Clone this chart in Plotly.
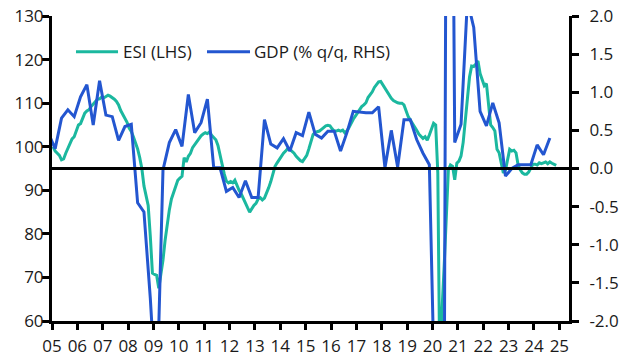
import plotly.graph_objects as go

# ---------------- data ----------------
esi_start_year = 2005  # monthly, Jan 2005 .. Nov 2024
esi_values = [
    # 2005
    100.0, 99.0, 98.5, 98.0, 97.0, 97.2, 98.5, 99.6, 100.5, 101.8, 102.3, 103.5,
    # 2006
    105.0, 105.3, 106.5, 107.7, 108.2, 108.5, 109.2, 109.7, 110.3, 110.9, 111.0, 111.4,
    # 2007
    111.2, 111.6, 111.8, 111.6, 111.3, 110.9, 110.4, 109.6, 108.3, 107.4, 106.6, 105.6,
    # 2008
    104.3, 103.5, 102.3, 101.0, 99.5, 97.5, 95.0, 91.0, 89.0, 86.5, 79.5, 71.0,
    # 2009
    70.7, 70.5, 67.5, 70.5, 74.0, 78.5, 82.5, 85.5, 88.0, 89.5, 90.5, 92.3,
    # 2010
    92.8, 93.2, 97.5, 96.5, 97.8, 98.5, 99.8, 100.5, 101.3, 102.0, 102.5, 102.9,
    # 2011
    103.2, 103.0, 103.4, 102.6, 102.0, 101.6, 100.3, 97.9, 95.6, 93.7, 92.1, 91.7,
    # 2012
    92.0, 91.7, 92.3, 91.0, 90.0, 89.2, 88.0, 87.2, 86.0, 85.0, 85.8, 86.5,
    # 2013
    87.0, 88.0, 88.3, 87.8, 88.2, 89.3, 90.6, 92.0, 94.0, 95.5, 96.3, 97.1,
    # 2014
    97.9, 98.5, 99.0, 99.6, 99.4, 99.0, 98.5, 97.8, 97.3, 96.8, 96.6, 97.2,
    # 2015
    98.0, 99.5, 101.5, 102.8, 103.3, 103.4, 103.6, 104.0, 104.4, 104.8, 104.9, 104.8,
    # 2016
    104.1, 103.6, 103.6, 103.8, 103.6, 103.8, 103.2, 103.6, 104.4, 105.5, 106.3, 107.0,
    # 2017
    107.7, 108.4, 109.2, 109.6, 110.1, 111.3, 111.9, 112.6, 113.6, 114.2, 114.9, 115.0,
    # 2018
    114.2, 113.6, 112.6, 111.9, 111.1, 110.6, 110.3, 110.1, 110.0, 110.0, 109.6, 108.0,
    # 2019
    106.9, 106.1, 105.4, 104.6, 103.8, 102.9, 102.3, 101.9, 102.3, 101.5, 102.7, 104.2,
    # 2020
    105.4, 105.0, 94.0, 45.0, 62.5, 72.5, 83.6, 94.7, 95.8, 95.5, 92.4, 96.2,
    # 2021
    96.7, 97.9, 101.0, 105.5, 110.0, 116.0, 118.5, 118.4, 119.0, 119.7, 116.8, 115.5,
    # 2022
    114.0, 114.5, 110.0, 105.0, 104.4, 103.6, 99.4, 98.6, 96.3, 94.0, 94.6, 97.0,
    # 2023
    99.4, 99.0, 99.2, 98.6, 95.8, 94.7, 94.0, 93.7, 93.7, 94.2, 95.0, 96.0,
    # 2024
    96.0, 95.8, 96.3, 96.1, 96.3, 96.5, 96.1, 96.5, 96.2, 96.0, 95.7,
]

gdp_start = 2004.75  # quarterly, Q4 2004 .. Q3 2024 (% q/q)
gdp_values = [
    0.45,
    0.26, 0.66, 0.77, 0.68,     # 2005
    0.94, 1.10, 0.57, 1.15,     # 2006
    0.70, 0.68, 0.37, 0.55,     # 2007
    0.58, -0.45, -0.57, -1.70,  # 2008
    -3.10, -0.02, 0.34, 0.51,   # 2009
    0.29, 0.97, 0.47, 0.60,     # 2010
    0.91, 0.01, 0.01, -0.30,    # 2011
    -0.25, -0.38, -0.16, -0.38, # 2012
    -0.38, 0.64, 0.32, 0.27,    # 2013
    0.39, 0.23, 0.47, 0.43,     # 2014
    0.74, 0.45, 0.40, 0.49,     # 2015
    0.49, 0.23, 0.47, 0.75,     # 2016
    0.74, 0.73, 0.73, 0.81,     # 2017
    0.01, 0.50, 0.02, 0.64,     # 2018
    0.64, 0.38, 0.20, 0.05,     # 2019
    -3.60, -11.30, 12.40, 0.34, # 2020
    0.58, 2.20, 1.85, 0.75,     # 2021
    0.56, 0.86, 0.60, -0.10,    # 2022
    0.00, 0.05, 0.05, 0.05,     # 2023
    0.31, 0.18, 0.40,           # 2024
]

x_tick_years = list(range(2005, 2026))
x_tick_labels = ["%02d" % (y % 100) for y in x_tick_years]
y_left_ticks = [60, 70, 80, 90, 100, 110, 120, 130]
y_right_ticks = [-2.0, -1.5, -1.0, -0.5, 0.0, 0.5, 1.0, 1.5, 2.0]
y_right_labels = ["-2.0", "-1.5", "-1.0", "-0.5", "0.0", "0.5", "1.0", "1.5", "2.0"]

series_names = ["ESI (LHS)", "GDP (% q/q, RHS)"]

# ---------------- styles ----------------
TEAL = "#1BB89F"
BLUE = "#2356D0"
TXT = "#1a1a1a"
FONT = "Open Sans"

esi_x = [esi_start_year + (i + 0.5) / 12 for i in range(len(esi_values))]
gdp_x = [gdp_start + (i + 0.5) / 4 for i in range(len(gdp_values))]

fig = go.Figure()
fig.add_trace(go.Scatter(x=esi_x, y=esi_values, mode="lines", name=series_names[0],
                         line=dict(color=TEAL, width=3), yaxis="y", showlegend=False))
fig.add_trace(go.Scatter(x=gdp_x, y=gdp_values, mode="lines", name=series_names[1],
                         line=dict(color=BLUE, width=3), yaxis="y2", showlegend=False))

# zero line of the right axis
fig.add_shape(type="line", xref="paper", x0=0, x1=1, yref="y2", y0=0, y1=0,
              line=dict(color="black", width=3), layer="above")

# manual legend
leg_y = 0.883
for x0, x1, tx, col, name in [(0.0464, 0.1277, 0.1335, TEAL, series_names[0]),
                              (0.2998, 0.3830, 0.3870, BLUE, series_names[1])]:
    fig.add_shape(type="line", xref="paper", yref="paper", x0=x0, x1=x1, y0=leg_y, y1=leg_y,
                  line=dict(color=col, width=3))
    fig.add_annotation(xref="paper", yref="paper", x=tx, y=leg_y, text=name, showarrow=False,
                       xanchor="left", yanchor="middle", font=dict(size=17, color=TXT, family=FONT))

axis_common = dict(showgrid=False, zeroline=False, showline=True, linecolor="black", linewidth=3,
                   ticks="outside", tickwidth=3, tickcolor="black", automargin=False)

fig.update_layout(
    width=628, height=360,
    margin=dict(l=52, r=59, t=16, b=39, autoexpand=False),
    paper_bgcolor="white", plot_bgcolor="white",
    font=dict(family=FONT, size=17, color=TXT),
    xaxis=dict(range=[2005, 2025.38], tickmode="array", tickvals=x_tick_years, ticktext=x_tick_labels,
               ticklen=6, ticklabelstandoff=2, **axis_common),
    yaxis=dict(range=[60, 130], tickmode="array", tickvals=y_left_ticks,
               ticklen=7, **axis_common),
    yaxis2=dict(range=[-2, 2], overlaying="y", side="right", tickmode="array",
                tickvals=y_right_ticks, ticktext=y_right_labels,
                ticklen=7, ticklabelstandoff=7, **axis_common),
)
try:
    fig.update_layout(yaxis=dict(ticklabelposition="outside", ticklabelstandoff=-5))
except Exception:
    pass

fig.write_html("out.html", config={"displayModeBar": False},
               post_script="document.body.style.margin='0';document.body.style.padding='0';")
